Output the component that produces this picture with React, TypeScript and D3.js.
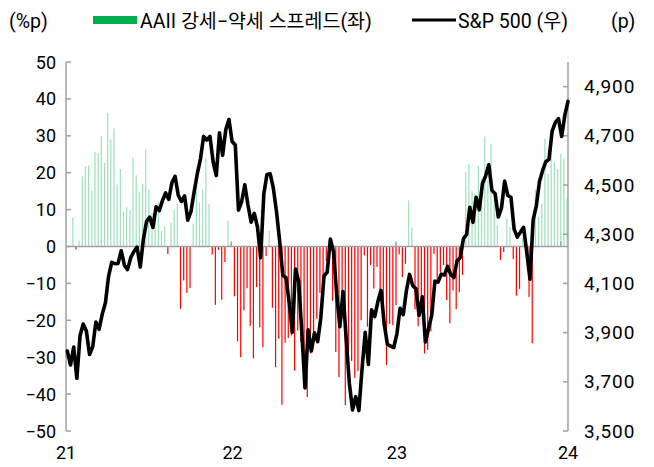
import React from 'react';
import * as d3 from 'd3';

const width = 654;
const height = 467;

// AAII bull-bear spread (%p), weekly, first survey 2021-01-20
const spreadStart = new Date(2021, 0, 20);
const spread = [
  7.9, -0.8, 1.6, 19, 21.7, 22, 15, 25.7, 25.3, 30,
  22.6, 36.2, 29, 32, 16.8, 21, 9.5, 10.6, 9.8, 24.1,
  19.3, 14.7, 17, 26.3, 15.5, 9.1, 8, 11.9, 4.3, 5.5,
  -2, 6.5, 10, 11.6, -16.9, -9.2, -12.6, -11.3, 6.2, 19,
  12, 15.5, 24, 11.5, -2.2, -15.8, -0.9, -14.4, -4.2, 7,
  0.5, -13.5, -25.7, -30, -17.3, -11.3, -21.5, -30.3, -11, -21.9,
  -27.3, -2.6, 4.3, -16.6, -32.7, -25, -42.9, -26.1, -24.8, -24.1,
  -33.6, -22.8, -25.9, -38.3, -40.8, -29, -25.9, -19.6, -12.6, -8,
  -4, -3, -14.7, -28.6, -35.4, -19.5, -43, -30, -31, -35.6,
  -33.8, -20, -2.4, -21.7, -5, -11.4, -5.5, -13, -21.2, -32.1,
  -21, -21.3, -15.9, -2.1, -8.3, -4.7, 12.5, 5.2, -17, -21.6,
  -13.7, -29, -28, -23, -2, -9.2, -7, -5, -14.5, -20.8,
  -11.9, -17, -12.4, -7.7, 20.1, 22.4, 15, 14.3, 21.8, 18.2,
  29.8, 17.9, 27.8, 14.7, 5.7, -3.6, -1.5, 7.5, 5.2, -3.4,
  -13.3, -11.5, 2.5, 2, -13.7, -26.2, 15.4, 8, 11.6, 29.2,
  19.7, 31.9, 22.9, 21, 25.1, 23.8, 13.4
];

// S&P 500 weekly close (p), first week 2021-01-08
const spxStart = new Date(2021, 0, 8);
const spx = [
  3824.68, 3768.25, 3841.47, 3714.24, 3886.83, 3934.83, 3906.71, 3811.15, 3841.94, 3943.34,
  3913.10, 3974.54, 4019.87, 4128.80, 4185.47, 4180.17, 4181.17, 4232.60, 4173.85, 4155.86,
  4204.11, 4229.89, 4247.44, 4166.45, 4280.70, 4352.34, 4369.55, 4327.16, 4411.79, 4395.26,
  4436.52, 4468.00, 4441.67, 4509.37, 4535.43, 4458.58, 4432.99, 4455.48, 4357.04, 4391.34,
  4471.37, 4544.90, 4605.38, 4697.53, 4682.85, 4697.96, 4594.62, 4538.43, 4712.02, 4620.64,
  4725.79, 4766.18,
  4677.03, 4662.85, 4397.94, 4431.85, 4500.53, 4418.64, 4348.87, 4384.65, 4328.87, 4204.31,
  4463.12, 4543.06, 4545.86, 4488.28, 4392.59, 4271.78, 4131.93, 4123.34, 4023.89, 3901.36,
  4158.24, 4108.54, 3900.86, 3674.84, 3911.74, 3825.33, 3899.38, 3863.16, 3961.63, 4130.29,
  4145.19, 4280.15, 4228.48, 4057.66, 3924.26, 4067.36, 3873.33, 3693.23, 3585.62, 3639.66,
  3583.07, 3752.75, 3901.06, 3770.55, 3992.93, 3965.34, 4026.12, 4071.70, 3934.38, 3852.36,
  3844.82, 3839.50,
  3895.08, 3999.09, 3972.61, 4070.56, 4136.48, 4090.46, 4079.09, 3970.04, 4045.64, 3861.59,
  3916.64, 3970.99, 4109.31, 4105.02, 4137.64, 4133.52, 4169.48, 4136.25, 4124.08, 4191.98,
  4205.45, 4282.37, 4298.86, 4409.59, 4348.33, 4450.38, 4398.95, 4505.42, 4536.34, 4582.23,
  4478.03, 4464.05, 4369.71, 4405.71, 4515.77, 4457.49, 4450.32, 4320.06, 4288.05, 4308.50,
  4327.78, 4224.16, 4117.37, 4358.34, 4415.24, 4514.02, 4559.34, 4594.63, 4604.37, 4719.19,
  4754.63, 4769.83,
  4697.24, 4783.83, 4839.81
];

const leftTicks = [50, 40, 30, 20, 10, 0, -10, -20, -30, -40, -50];
const rightTicks = [3500, 3700, 3900, 4100, 4300, 4500, 4700, 4900];
const yearTicks = [new Date(2022, 0, 5), new Date(2023, 0, 4), new Date(2024, 0, 3)];
const yearLabels = [
  { label: '21', date: new Date(2021, 0, 5) },
  { label: '22', date: new Date(2022, 0, 8) },
  { label: '23', date: new Date(2023, 0, 6) },
  { label: '24', date: new Date(2024, 0, 19) }
];

const font = "Roboto, 'Noto Sans CJK KR', sans-serif";
const axisColor = '#a0a0a0';

const App = () => {
  const margins = { l: 66, r: 86, t: 62, b: 36 };
  const plotRight = width - margins.r;
  const plotBottom = height - margins.b;

  const x = d3
    .scaleTime()
    .domain([new Date(2021, 0, 5), new Date(2024, 0, 19)])
    .range([margins.l, plotRight]);
  const yL = d3.scaleLinear().domain([-50, 50]).range([plotBottom, margins.t]);
  const yR = d3.scaleLinear().domain([3500, 5000]).range([plotBottom, margins.t]);

  const bars = spread.map((v, i) => ({ date: d3.timeWeek.offset(spreadStart, i), v }));
  const pts = spx.map((v, i) => ({ date: d3.timeWeek.offset(spxStart, i), v }));

  const line = d3
    .line<{ date: Date; v: number }>()
    .x(d => x(d.date))
    .y(d => yR(d.v));

  const fmt = d3.format(',');
  const barW = 1.2;

  return (
    <svg
      width={width}
      height={height}
      style={{ position: 'absolute', left: 0, top: 0, background: '#fff' }}
      fontFamily={font}
    >
      {/* header units + legend */}
      <text x={9} y={21} fontSize={19.5} dominantBaseline="central">(%p)</text>
      <text x={611} y={21} fontSize={19.5} dominantBaseline="central">(p)</text>
      <rect x={93} y={16} width={44} height={8} fill="#00b050" />
      <text x={140} y={21} fontSize={19.5} dominantBaseline="central">AAII 강세−약세 스프레드(좌)</text>
      <line x1={412} x2={456} y1={20} y2={20} stroke="#000" strokeWidth={3} />
      <text x={458} y={21} fontSize={19.5} dominantBaseline="central">S&amp;P 500 (우)</text>

      {/* bars */}
      <g>
        {bars.map((d, i) => (
          <rect
            key={i}
            x={x(d.date) - barW / 2}
            y={d.v >= 0 ? yL(d.v) : yL(0)}
            width={barW}
            height={Math.abs(yL(d.v) - yL(0))}
            fill={d.v >= 0 ? '#00b050' : '#ff0000'}
            fillOpacity={d.v >= 0 ? 0.38 : 1}
          />
        ))}
      </g>

      {/* zero line with year ticks */}
      <line x1={margins.l} x2={plotRight} y1={yL(0)} y2={yL(0)} stroke={axisColor} strokeWidth={1.5} />
      {yearTicks.map((d, i) => (
        <line key={i} x1={x(d)} x2={x(d)} y1={yL(0)} y2={yL(0) - 5} stroke={axisColor} strokeWidth={1.5} />
      ))}

      {/* left axis */}
      <line x1={margins.l} x2={margins.l} y1={margins.t} y2={plotBottom} stroke={axisColor} strokeWidth={1.5} />
      {leftTicks.map(t => (
        <g key={t}>
          <line x1={margins.l} x2={margins.l + 5} y1={yL(t)} y2={yL(t)} stroke={axisColor} strokeWidth={1.5} />
          <text x={56} y={yL(t)} fontSize={18} textAnchor="end" dominantBaseline="central">
            {t < 0 ? '−' + Math.abs(t) : t}
          </text>
        </g>
      ))}

      {/* right axis */}
      <line x1={plotRight} x2={plotRight} y1={margins.t} y2={plotBottom} stroke={axisColor} strokeWidth={1.5} />
      {rightTicks.map(t => (
        <g key={t}>
          <line x1={plotRight - 5} x2={plotRight} y1={yR(t)} y2={yR(t)} stroke={axisColor} strokeWidth={1.5} />
          <text x={584} y={yR(t)} fontSize={19} letterSpacing={1} textAnchor="start" dominantBaseline="central">
            {fmt(t)}
          </text>
        </g>
      ))}

      {/* x labels */}
      {yearLabels.map(d => (
        <text key={d.label} x={x(d.date)} y={452} fontSize={18} textAnchor="middle" dominantBaseline="central">
          {d.label}
        </text>
      ))}

      {/* S&P 500 line */}
      <path d={line(pts) || ''} fill="none" stroke="#000" strokeWidth={3.6} strokeLinejoin="round" strokeLinecap="round" />
    </svg>
  );
};

export default App;
